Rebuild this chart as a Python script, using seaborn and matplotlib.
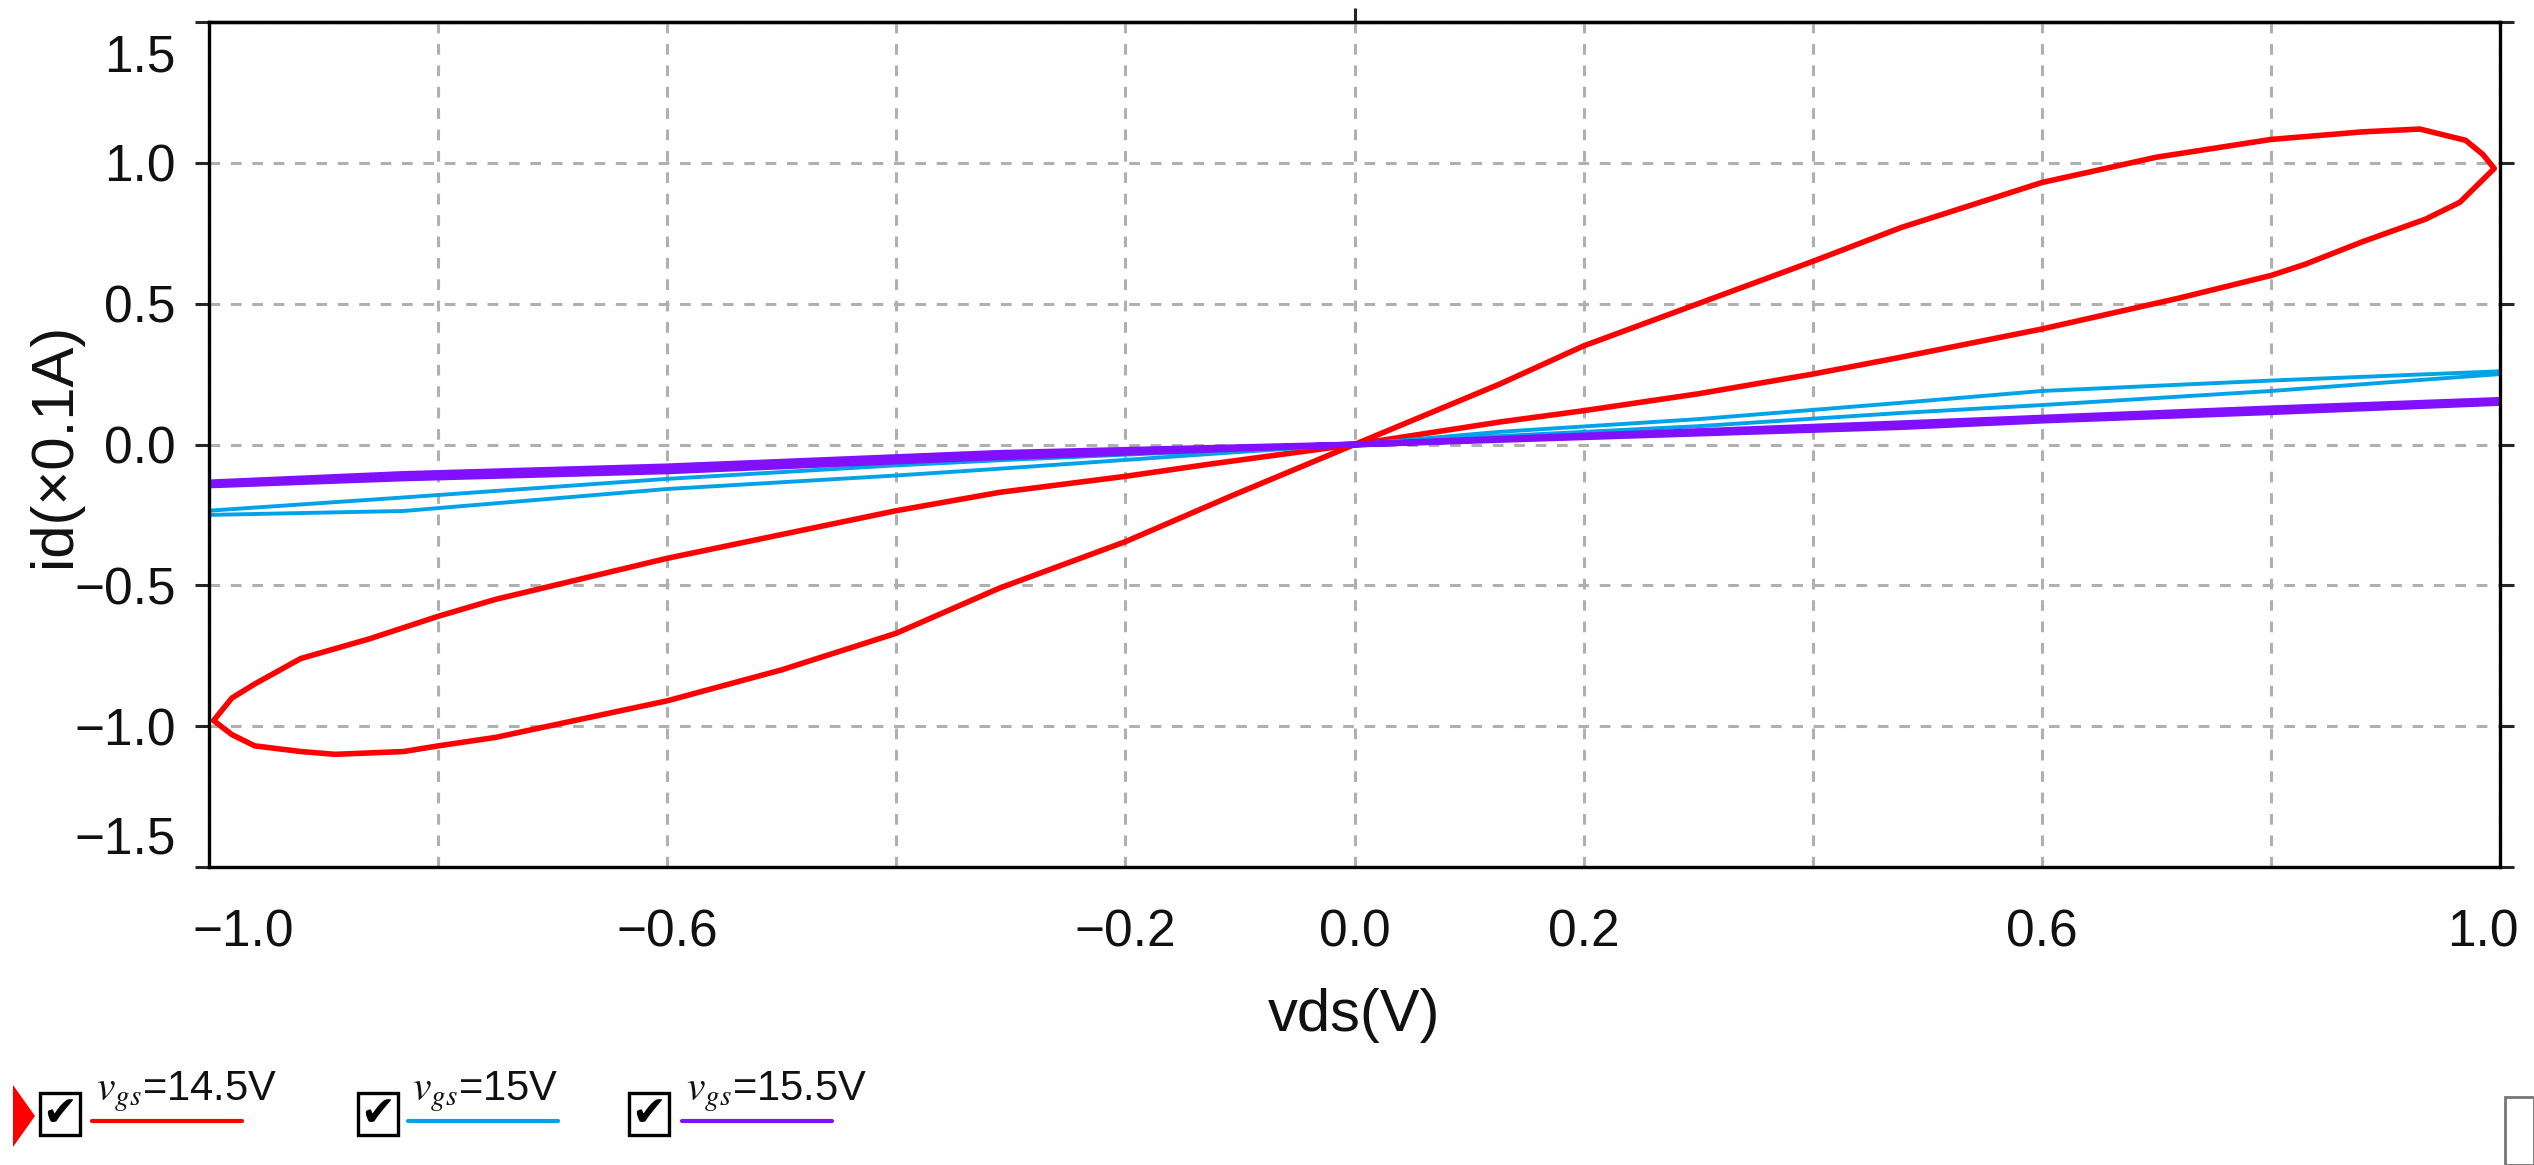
import pandas as pd
import matplotlib
matplotlib.use("Agg")
import matplotlib.pyplot as plt
import matplotlib.transforms as mtransforms
from matplotlib.patches import Rectangle, Polygon
from matplotlib.lines import Line2D
import seaborn as sns

# vgs = 14.5 V loop (traced in drawing order)
red_x = [0.0, 0.127, 0.2, 0.3, 0.4, 0.477, 0.6, 0.7, 0.8, 0.88, 0.93, 0.97, 0.985, 0.995,
         0.98, 0.965, 0.935, 0.88, 0.83, 0.8, 0.72, 0.6, 0.477, 0.4, 0.3, 0.2, 0.127, 0.0,
         -0.127, -0.2, -0.31, -0.4, -0.6, -0.75, -0.8, -0.86, -0.92, -0.96, -0.98, -0.996,
         -0.98, -0.96, -0.92, -0.89, -0.83, -0.8, -0.75, -0.6, -0.5, -0.4, -0.31, -0.2, -0.106, 0.0]
red_y = [0.0, 0.215, 0.35, 0.5, 0.65, 0.77, 0.93, 1.02, 1.083, 1.11, 1.12, 1.08, 1.03, 0.98,
         0.92, 0.86, 0.8, 0.72, 0.64, 0.6, 0.52, 0.41, 0.31, 0.25, 0.18, 0.12, 0.08, 0.0,
         -0.07, -0.113, -0.17, -0.235, -0.404, -0.55, -0.61, -0.69, -0.76, -0.85, -0.9, -0.98,
         -1.03, -1.07, -1.09, -1.1, -1.09, -1.07, -1.04, -0.91, -0.8, -0.67, -0.51, -0.345, -0.18, 0.0]

# vgs = 15 V loop
blue_x = [0.0, 0.127, 0.3, 0.477, 0.6, 0.8, 1.0,
          1.0, 0.8, 0.6, 0.477, 0.3, 0.127, 0.0,
          -0.31, -0.4, -0.6, -0.83, -1.0,
          -1.0, -0.83, -0.6, -0.4, -0.31, -0.106, 0.0]
blue_y = [0.0, 0.045, 0.09, 0.148, 0.19, 0.227, 0.26,
          0.25, 0.19, 0.14, 0.112, 0.065, 0.03, 0.0,
          -0.056, -0.074, -0.122, -0.188, -0.235,
          -0.25, -0.236, -0.158, -0.11, -0.086, -0.028, 0.0]

# vgs = 15.5 V loop
purple_x = [-1.0, -0.83, -0.6, -0.4, -0.31, 0.0, 0.477, 0.6, 0.8, 1.0,
            1.0, 0.8, 0.6, 0.477, 0.0, -0.31, -0.4, -0.6, -0.83, -1.0]
purple_y = [-0.145, -0.12, -0.095, -0.06, -0.045, 0.0, 0.075, 0.095, 0.128, 0.158,
            0.148, 0.115, 0.085, 0.062, 0.0, -0.03, -0.045, -0.078, -0.105, -0.135]

series_names = ["14.5V", "15V", "15.5V"]
series_colors = ["#ff0000", "#00a2e8", "#8010ff"]
series_widths = [4.0, 2.8, 4.4]

x_major = [-1.0, -0.6, -0.2, 0.0, 0.2, 0.6, 1.0]
x_minor = [-0.8, -0.4, 0.4, 0.8]
y_major = [-1.5, -1.0, -0.5, 0.0, 0.5, 1.0, 1.5]

sns.set_theme(style="white")
plt.rcParams["font.family"] = ["Liberation Sans", "DejaVu Sans"]
plt.rcParams["mathtext.fontset"] = "stix"
plt.rcParams["axes.unicode_minus"] = True

W, H = 2534, 1165
fig = plt.figure(figsize=(W / 100, H / 100), dpi=100)
ax = fig.add_axes([209 / W, 1 - 867 / H, (2500 - 209) / W, (867 - 22) / H])

frames = [
    pd.DataFrame({"vds": red_x, "id": red_y}),
    pd.DataFrame({"vds": blue_x, "id": blue_y}),
    pd.DataFrame({"vds": purple_x, "id": purple_y}),
]
for df, c, lw in zip(frames, series_colors, series_widths):
    sns.lineplot(data=df, x="vds", y="id", sort=False, estimator=None,
                 color=c, linewidth=lw, ax=ax, legend=False)

ax.set_xlim(-1.0, 1.0)
ax.set_ylim(-1.5, 1.5)
ax.set_xticks(x_major)
ax.set_xticks(x_minor, minor=True)
ax.set_yticks(y_major)
ax.set_xticklabels([f"{v:.1f}".replace("-", "\u2212") for v in x_major])
ax.set_yticklabels([f"{v:.1f}".replace("-", "\u2212") for v in y_major])

tick_font = ["Liberation Sans Narrow", "Liberation Sans", "DejaVu Sans"]
for lab in ax.get_xticklabels() + ax.get_yticklabels():
    lab.set_fontfamily(tick_font)
    lab.set_fontsize(37)
    lab.set_color("#111111")

ax.tick_params(axis="x", which="major", direction="out", length=10, width=2.2, pad=20)
ax.tick_params(axis="x", which="minor", direction="out", length=4, width=2.2)
ax.tick_params(axis="y", which="major", direction="out", length=10, width=2.2, pad=14,
               left=True, right=True)

for s in ax.spines.values():
    s.set_color("black")
    s.set_linewidth(2.4)

ax.grid(True, which="both", axis="x", color="#b0b0b0", linewidth=2.2, linestyle=(0, (3.5, 3.5)))
ax.grid(True, which="major", axis="y", color="#b0b0b0", linewidth=2.2, linestyle=(0, (3.5, 3.5)))
ax.set_axisbelow(True)

# single tick on top edge at 0
top = ax.secondary_xaxis("top")
top.set_xticks([0.0])
top.set_xticklabels([""])
top.tick_params(direction="out", length=10, width=2.2)
top.spines["top"].set_linewidth(2.4)

# edge labels sit inside the frame in the original
def shift(lab, dx, dy):
    lab.set_transform(lab.get_transform() +
                      mtransforms.ScaledTranslation(dx / 100, dy / 100, fig.dpi_scale_trans))

xl = ax.get_xticklabels()
yl = ax.get_yticklabels()
shift(xl[0], 34, 0)
shift(xl[-1], -17, 0)
shift(yl[0], 0, 32)
shift(yl[-1], 0, -30)

ax.set_xlabel("vds(V)", fontsize=43, labelpad=22, color="#111111")
ax.set_ylabel("id(\u00d70.1A)", fontsize=43, labelpad=0, color="#111111")
ax.yaxis.set_label_coords(-0.0554, 0.5)

# bottom legend strip with check boxes
def fx(x):
    return x / W

def fy(y):
    return 1 - y / H

fig.patches.append(Polygon([(fx(13), fy(1085)), (fx(35), fy(1116)), (fx(13), fy(1147))],
                           closed=True, facecolor="#ff0000", edgecolor="none",
                           transform=fig.transFigure))
box_left = [40, 358, 629]
line_left = [92, 408, 682]
for name, c, bx, lx in zip(series_names, series_colors, box_left, line_left):
    fig.patches.append(Rectangle((fx(bx), fy(1135)), 40 / W, 42 / H, fill=False,
                                 edgecolor="black", linewidth=2.4, transform=fig.transFigure))
    fig.text(fx(bx + 20), fy(1114), "\u2714", fontsize=30, ha="center", va="center",
             color="black", family=["DejaVu Sans"])
    fig.lines.append(Line2D([fx(lx), fx(lx + 150)], [fy(1121), fy(1121)], color=c,
                            linewidth=3, transform=fig.transFigure))
    fig.text(fx(lx + 4), fy(1100), r"$v_{gs}$=" + name, fontsize=30, ha="left", va="baseline",
             color="#111111", family=["Liberation Sans Narrow", "Liberation Sans", "DejaVu Sans"])

# window corner at bottom right
fig.patches.append(Rectangle((fx(2505), 0), (W - 2505) / W, (H - 1097) / H, facecolor="white",
                             edgecolor="#777777", linewidth=2, transform=fig.transFigure))

fig.savefig("out.png", dpi=100, facecolor="white")
